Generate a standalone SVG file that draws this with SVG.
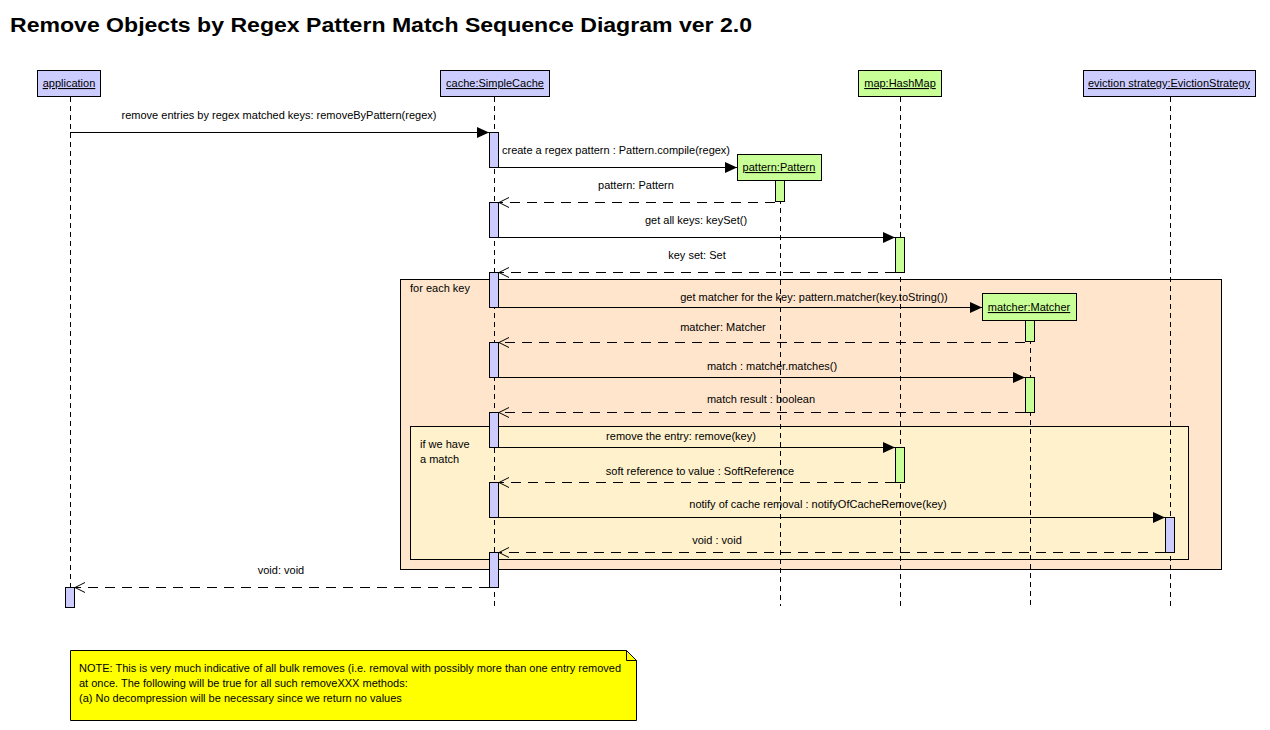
<svg xmlns="http://www.w3.org/2000/svg" width="1270" height="730" viewBox="0 0 1270 730">
<style>
text{font-family:"Liberation Sans",Arial,sans-serif;font-size:11px;fill:#000}
.title{font-size:20px;font-weight:bold}
.head{stroke:#000;stroke-width:1}
.blue{fill:#ccccff}
.green{fill:#c8ff96}
.hl{text-anchor:middle;text-decoration:underline}
.life{stroke:#000;stroke-width:1;stroke-dasharray:5,4;fill:none}
.act{stroke:#000;stroke-width:1}
.call{stroke:#000;stroke-width:1;fill:none;marker-end:url(#filled)}
.ret{stroke:#000;stroke-width:1;fill:none;stroke-dasharray:10,7;marker-end:url(#open)}
.lbl{text-anchor:middle}
</style>
<defs>
<marker id="filled" markerUnits="userSpaceOnUse" markerWidth="13" markerHeight="12" refX="12" refY="5.5" orient="auto">
<path d="M0,0 L12,5.5 L0,11 z" fill="#000"/>
</marker>
<marker id="open" markerUnits="userSpaceOnUse" markerWidth="12" markerHeight="12" refX="11" refY="6" orient="auto">
<path d="M1,1 L11,6 L1,11" fill="none" stroke="#000" stroke-width="1"/>
</marker>
</defs>
<rect width="1270" height="730" fill="#fff"/>
<text class="title" x="10" y="32" textLength="742" lengthAdjust="spacingAndGlyphs">Remove Objects by Regex Pattern Match Sequence Diagram ver 2.0</text>

<g id="frame-loop">
<rect x="400.5" y="279.5" width="821" height="290" fill="#ffe5cc" stroke="#000"/>
<text x="410" y="292">for each key</text>
</g>
<g id="frame-alt">
<rect x="410.5" y="426.5" width="778" height="133" fill="#fff1cc" stroke="#000"/>
<text x="420" y="448">if we have</text>
<text x="420" y="463">a match</text>
</g>

<g id="application">
<line class="life" x1="70.5" y1="97" x2="70.5" y2="587"/>
<rect class="head blue" x="37.5" y="70.5" width="63" height="26"/>
<text class="hl" x="69" y="87">application</text>
<rect class="act blue" x="65.5" y="587.5" width="9" height="20"/>
</g>

<g id="cache">
<line class="life" x1="494.5" y1="97" x2="494.5" y2="606"/>
<rect class="head blue" x="440.5" y="70.5" width="109" height="26"/>
<text class="hl" x="495" y="87">cache:SimpleCache</text>
<rect class="act blue" x="489.5" y="132.5" width="9" height="35"/>
<rect class="act blue" x="489.5" y="202.5" width="9" height="35"/>
<rect class="act blue" x="489.5" y="272.5" width="9" height="35"/>
<rect class="act blue" x="489.5" y="342.5" width="9" height="35"/>
<rect class="act blue" x="489.5" y="412.5" width="9" height="35"/>
<rect class="act blue" x="489.5" y="482.5" width="9" height="35"/>
<rect class="act blue" x="489.5" y="552.5" width="9" height="35"/>
</g>

<g id="pattern">
<line class="life" x1="780.5" y1="181" x2="780.5" y2="606"/>
<rect class="head green" x="737.5" y="154.5" width="84" height="26"/>
<text class="hl" x="779" y="171">pattern:Pattern</text>
<rect class="act green" x="775.5" y="180.5" width="9" height="21"/>
</g>

<g id="map">
<line class="life" x1="900.5" y1="97" x2="900.5" y2="606"/>
<rect class="head green" x="858.5" y="70.5" width="83" height="26"/>
<text class="hl" x="900" y="87">map:HashMap</text>
<rect class="act green" x="895.5" y="237.5" width="9" height="35"/>
<rect class="act green" x="895.5" y="447.5" width="9" height="35"/>
</g>

<g id="matcher">
<line class="life" x1="1030.5" y1="321" x2="1030.5" y2="606"/>
<rect class="head green" x="982.5" y="293.5" width="94" height="27"/>
<text class="hl" x="1029" y="311">matcher:Matcher</text>
<rect class="act green" x="1025.5" y="320.5" width="9" height="21"/>
<rect class="act green" x="1025.5" y="377.5" width="9" height="35"/>
</g>

<g id="eviction">
<line class="life" x1="1170.5" y1="97" x2="1170.5" y2="606"/>
<rect class="head blue" x="1083.5" y="70.5" width="172" height="26"/>
<text class="hl" x="1169" y="87">eviction strategy:EvictionStrategy</text>
<rect class="act blue" x="1165.5" y="517.5" width="9" height="35"/>
</g>

<g id="connectors">
<line class="call" x1="70" y1="132.5" x2="489" y2="132.5"/>
<line class="call" x1="499" y1="167.5" x2="737" y2="167.5"/>
<line class="ret" x1="775" y1="202.5" x2="499" y2="202.5"/>
<line class="call" x1="499" y1="237.5" x2="895" y2="237.5"/>
<line class="ret" x1="895" y1="272.5" x2="499" y2="272.5"/>
<line class="call" x1="499" y1="307.5" x2="982" y2="307.5"/>
<line class="ret" x1="1025" y1="342.5" x2="499" y2="342.5"/>
<line class="call" x1="499" y1="377.5" x2="1025" y2="377.5"/>
<line class="ret" x1="1025" y1="412.5" x2="499" y2="412.5"/>
<line class="call" x1="499" y1="447.5" x2="895" y2="447.5"/>
<line class="ret" x1="895" y1="482.5" x2="499" y2="482.5"/>
<line class="call" x1="499" y1="517.5" x2="1165" y2="517.5"/>
<line class="ret" x1="1165" y1="552.5" x2="499" y2="552.5"/>
<line class="ret" x1="489" y1="587.5" x2="75" y2="587.5"/>
<text class="lbl" x="279" y="119">remove entries by regex matched keys: removeByPattern(regex)</text>
<text class="lbl" x="616" y="154">create a regex pattern : Pattern.compile(regex)</text>
<text class="lbl" x="636" y="189">pattern: Pattern</text>
<text class="lbl" x="696" y="224">get all keys: keySet()</text>
<text class="lbl" x="697" y="259">key set: Set</text>
<text class="lbl" x="814" y="301">get matcher for the key: pattern.matcher(key.toString())</text>
<text class="lbl" x="723" y="331">matcher: Matcher</text>
<text class="lbl" x="772" y="370">match : matcher.matches()</text>
<text class="lbl" x="761" y="403">match result : boolean</text>
<text class="lbl" x="681" y="440">remove the entry: remove(key)</text>
<text class="lbl" x="700" y="475">soft reference to value : SoftReference</text>
<text class="lbl" x="818" y="508">notify of cache removal : notifyOfCacheRemove(key)</text>
<text class="lbl" x="717" y="544">void : void</text>
<text class="lbl" x="281" y="574">void: void</text>
</g>

<g id="note">
<path d="M70.5,650.5 H626.5 L636.5,660.5 V720.5 H70.5 Z" fill="#ffff00" stroke="#000"/>
<path d="M626.5,650.5 V660.5 H636.5" fill="none" stroke="#000"/>
<text x="79" y="672">NOTE: This is very much indicative of all bulk removes (i.e. removal with possibly more than one entry removed</text>
<text x="79" y="687">at once. The following will be true for all such removeXXX methods:</text>
<text x="79" y="702">(a) No decompression will be necessary since we return no values</text>
</g>
</svg>
